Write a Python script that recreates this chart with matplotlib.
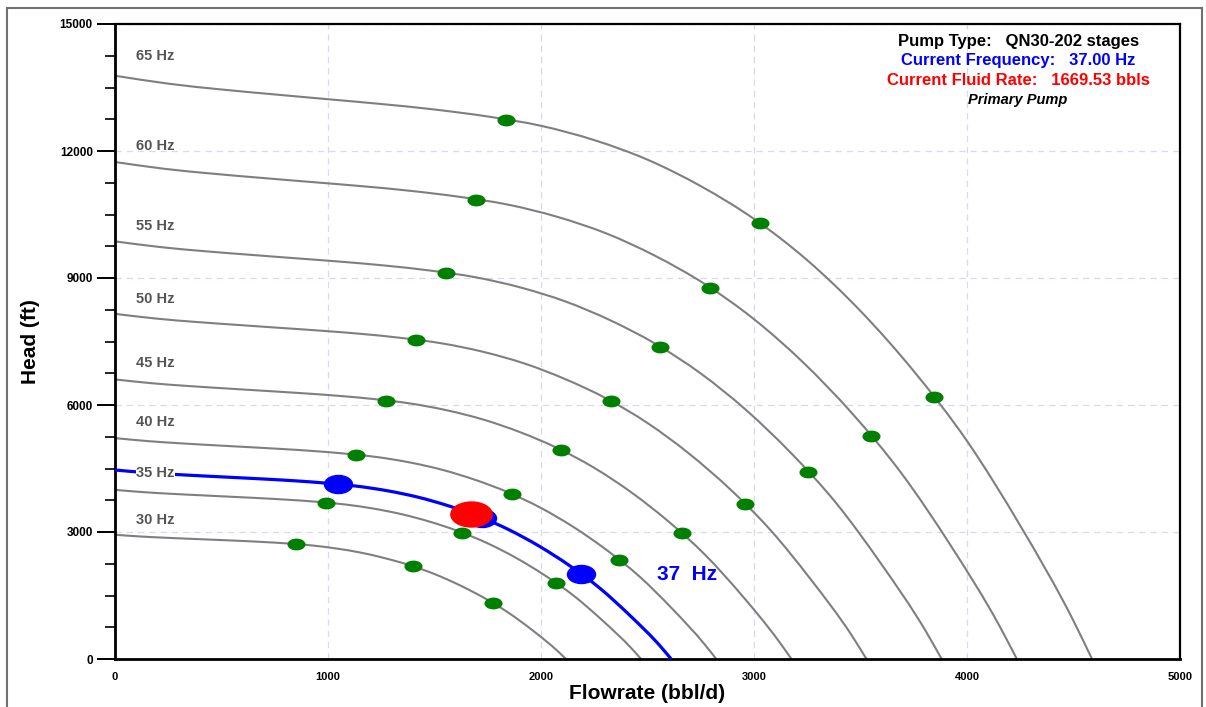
import matplotlib
matplotlib.use("Agg")
import matplotlib.pyplot as plt
from matplotlib.markers import MarkerStyle
from matplotlib.transforms import Affine2D
from matplotlib.patches import Rectangle, PathPatch
from matplotlib.path import Path

plt.rcParams['font.family'] = ['Liberation Sans', 'DejaVu Sans']

# head curves (flow bbl/d, head ft), one pair per frequency
q_65 = [0, 250, 500, 750, 1000, 1250, 1500, 1750, 2000, 2250, 2500, 2750, 3000, 3250, 3500, 3750, 4000, 4250, 4500, 4587]
h_65 = [13778, 13591, 13453, 13336, 13223, 13110, 12980, 12815, 12595, 12257, 11795, 11170, 10395, 9420, 8220, 6800, 5150, 3150, 900, 0]
q_60 = [0, 231, 462, 692, 923, 1154, 1385, 1615, 1846, 2077, 2308, 2538, 2769, 3000, 3231, 3462, 3692, 3923, 4154, 4234]
h_60 = [11740, 11580, 11463, 11363, 11267, 11171, 11060, 10919, 10732, 10444, 10050, 9518, 8857, 8027, 7004, 5794, 4388, 2684, 767, 0]
q_55 = [0, 212, 423, 635, 846, 1058, 1269, 1481, 1692, 1904, 2115, 2327, 2538, 2750, 2962, 3173, 3385, 3596, 3808, 3881]
h_55 = [9865, 9731, 9632, 9548, 9467, 9386, 9293, 9175, 9018, 8776, 8445, 7997, 7443, 6744, 5885, 4869, 3687, 2255, 644, 0]
q_50 = [0, 192, 385, 577, 769, 962, 1154, 1346, 1538, 1731, 1923, 2115, 2308, 2500, 2692, 2885, 3077, 3269, 3462, 3528]
h_50 = [8153, 8042, 7960, 7891, 7824, 7757, 7681, 7583, 7453, 7253, 6979, 6609, 6151, 5574, 4864, 4024, 3047, 1864, 533, 0]
q_45 = [0, 173, 346, 519, 692, 865, 1038, 1212, 1385, 1558, 1731, 1904, 2077, 2250, 2423, 2596, 2769, 2942, 3115, 3176]
h_45 = [6604, 6514, 6448, 6392, 6338, 6283, 6221, 6142, 6037, 5875, 5653, 5354, 4982, 4515, 3940, 3259, 2468, 1510, 431, 0]
q_40 = [0, 154, 308, 462, 615, 769, 923, 1077, 1231, 1385, 1538, 1692, 1846, 2000, 2154, 2308, 2462, 2615, 2769, 2823]
h_40 = [5218, 5147, 5095, 5050, 5008, 4965, 4916, 4853, 4770, 4642, 4467, 4230, 3937, 3567, 3113, 2575, 1950, 1193, 341, 0]
q_35 = [0, 135, 269, 404, 538, 673, 808, 942, 1077, 1212, 1346, 1481, 1615, 1750, 1885, 2019, 2154, 2288, 2423, 2470]
h_35 = [3995, 3941, 3901, 3867, 3834, 3801, 3763, 3716, 3652, 3554, 3420, 3239, 3014, 2731, 2383, 1972, 1493, 913, 261, 0]
q_30 = [0, 115, 231, 346, 462, 577, 692, 808, 923, 1038, 1154, 1269, 1385, 1500, 1615, 1731, 1846, 1962, 2077, 2117]
h_30 = [2935, 2895, 2866, 2841, 2817, 2793, 2765, 2730, 2683, 2611, 2513, 2379, 2214, 2007, 1751, 1449, 1097, 671, 192, 0]

# current operating curve (37 Hz)
q_37 = [0, 142, 285, 427, 569, 712, 854, 996, 1138, 1281, 1423, 1565, 1708, 1850, 1992, 2135, 2277, 2419, 2562, 2611]
h_37 = [4464, 4404, 4359, 4321, 4285, 4248, 4206, 4152, 4081, 3972, 3822, 3619, 3368, 3052, 2664, 2203, 1669, 1021, 292, 0]

freq_labels = ["65 Hz", "60 Hz", "55 Hz", "50 Hz", "45 Hz", "40 Hz", "35 Hz", "30 Hz"]
curve_q = [q_65, q_60, q_55, q_50, q_45, q_40, q_35, q_30]
curve_h = [h_65, h_60, h_55, h_50, h_45, h_40, h_35, h_30]
label_h = [14240, 12120, 10230, 8500, 6990, 5600, 4390, 3280]

# green range markers (min / best / max flow) on each frequency curve
dots_q = [[1837, 3027, 3843], [1696, 2794, 3547], [1554, 2561, 3252], [1413, 2329, 2956],
          [1272, 2096, 2661], [1131, 1863, 2365], [989, 1630, 2069], [848, 1397, 1774]]
dots_h = [[12738, 10290, 6186], [10854, 8768, 5271], [9120, 7367, 4429], [7537, 6089, 3660],
          [6105, 4932, 2965], [4824, 3897, 2343], [3693, 2984, 1794], [2713, 2192, 1318]]

# range markers on the current curve and the current operating point
blue_q = [1046, 1723, 2188]
blue_h = [4127, 3334, 2004]
rate_q = [1669.53]
rate_h = [3436]


def smooth_curve(ax, q, h, **kw):
    # draw the read points as a smooth line (cubic bezier between each pair)
    n = len(q)
    slopes = []
    for i in range(n):
        if i == 0:
            s = (h[1] - h[0]) / (q[1] - q[0])
        elif i == n - 1:
            s = (h[-1] - h[-2]) / (q[-1] - q[-2])
        else:
            d0, d1 = q[i] - q[i - 1], q[i + 1] - q[i]
            s0, s1 = (h[i] - h[i - 1]) / d0, (h[i + 1] - h[i]) / d1
            s = (s0 * d1 + s1 * d0) / (d0 + d1)
        slopes.append(s)
    verts = [(q[0], h[0])]
    codes = [Path.MOVETO]
    for i in range(n - 1):
        d = (q[i + 1] - q[i]) / 3
        verts += [(q[i] + d, h[i] + slopes[i] * d),
                  (q[i + 1] - d, h[i + 1] - slopes[i + 1] * d),
                  (q[i + 1], h[i + 1])]
        codes += [Path.CURVE4] * 3
    ax.add_patch(PathPatch(Path(verts, codes), fill=False, capstyle='butt', **kw))
    ax.update_datalim(list(zip(q, h)))


fig = plt.figure(figsize=(12.06, 7.07), dpi=100)
fig.patches.append(Rectangle((7 / 1206, -0.1), 1195 / 1206, 1.1 - 8 / 707,
                             transform=fig.transFigure, fill=False,
                             edgecolor='#707070', linewidth=1.5))
ax = fig.add_axes([115 / 1206, 48 / 707, 1065 / 1206, 635 / 707])


def oval(sx):
    return MarkerStyle('o', transform=Affine2D().scale(sx, 1.0))


for name, q, h, dq, dh, ly in zip(freq_labels, curve_q, curve_h, dots_q, dots_h, label_h):
    smooth_curve(ax, q, h, edgecolor='#7f7f7f', lw=1.5, zorder=2)
    ax.plot(dq, dh, ls='none', marker=oval(1.6), ms=7.5, color='#008000',
            mec='#008000', zorder=4)
    bbox = dict(facecolor='white', edgecolor='none', pad=0.5) if name == "35 Hz" else None
    ax.text(100, ly, name, color='#555555', fontsize=10.5, fontweight='bold',
            va='center', ha='left', bbox=bbox, zorder=5)

smooth_curve(ax, q_37, h_37, edgecolor='#0000ff', lw=2.3, zorder=3)
ax.plot(blue_q, blue_h, ls='none', marker=oval(1.55), ms=13, color='#0000ff', zorder=5)
ax.plot(rate_q, rate_h, ls='none', marker=oval(1.65), ms=18, color='#ff0000', zorder=6)
ax.text(2545, 1990, "37  Hz", color='#0000ff', fontsize=15, fontweight='bold',
        va='center', ha='left')

ax.set_xlim(0, 5000)
ax.set_ylim(0, 15000)
ax.set_xticks([0, 1000, 2000, 3000, 4000, 5000])
ax.set_yticks([0, 3000, 6000, 9000, 12000, 15000])
ax.set_yticks(range(0, 15001, 750), minor=True)
ax.tick_params(axis='x', length=0, pad=9, labelsize=8)
ax.tick_params(axis='y', which='major', length=13, width=1.4, pad=3, labelsize=8.5)
ax.tick_params(axis='y', which='minor', length=7, width=1.2)
for lab in ax.get_xticklabels() + ax.get_yticklabels():
    lab.set_fontweight('bold')

ax.grid(True, which='major', color='#d8d8f0', ls=(0, (5, 4)), lw=0.9, zorder=0)
for side, s in ax.spines.items():
    s.set_linewidth(2.0 if side in ('left', 'bottom') else 1.6)
    s.set_color('black')

ax.set_xlabel("Flowrate (bbl/d)", fontsize=15, fontweight='bold', labelpad=2)
ax.set_ylabel("Head (ft)", fontsize=15, fontweight='bold', labelpad=14)

ax.text(0.848, 0.972, "Pump Type:   QN30-202 stages", transform=ax.transAxes,
        ha='center', va='center', fontsize=12, fontweight='bold', color='black')
ax.text(0.848, 0.942, "Current Frequency:   37.00 Hz", transform=ax.transAxes,
        ha='center', va='center', fontsize=12, fontweight='bold', color='#0000ff')
ax.text(0.848, 0.911, "Current Fluid Rate:   1669.53 bbls", transform=ax.transAxes,
        ha='center', va='center', fontsize=12, fontweight='bold', color='#ff0000')
ax.text(0.848, 0.881, "Primary Pump", transform=ax.transAxes,
        ha='center', va='center', fontsize=10.5, fontweight='bold', style='italic',
        color='black')

fig.savefig("out.png", dpi=100)
